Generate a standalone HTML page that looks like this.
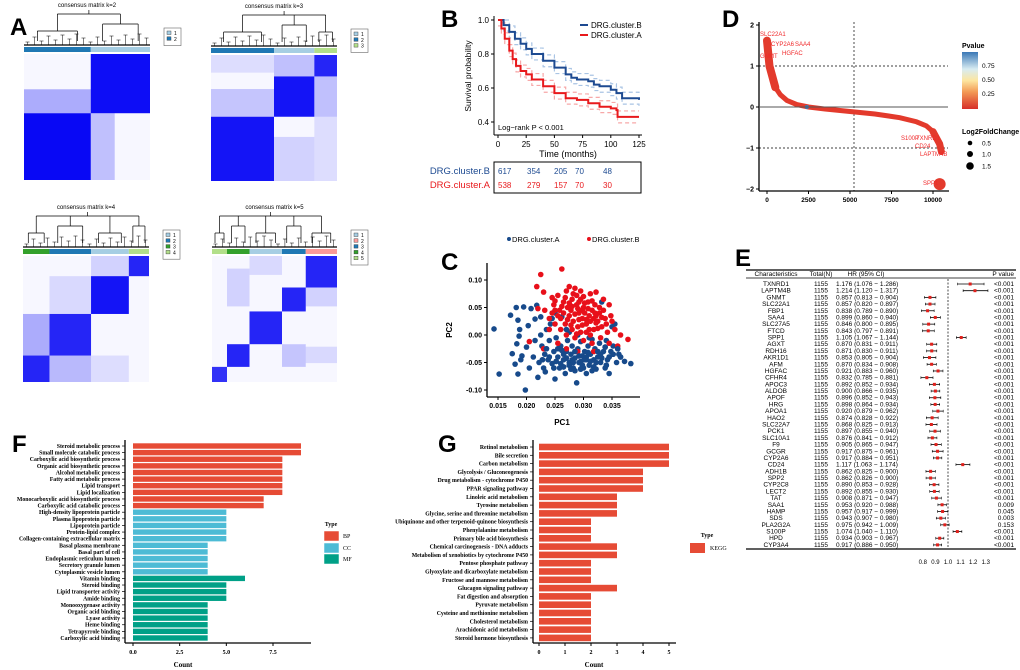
<!DOCTYPE html>
<html><head><meta charset="utf-8"><style>
html,body{margin:0;padding:0;background:#fff;width:1020px;height:670px;overflow:hidden}
svg{display:block;font-family:"Liberation Sans",sans-serif}
.serif{font-family:"Liberation Serif",serif;font-weight:bold}
</style></head><body>
<svg id="fig" width="1020" height="670" viewBox="0 0 1020 670"></svg>
<script>
// ---------- DATA ----------
const kmTimesB=[0,5,10,15,20,25,30,40,50,60,65,70,80,85,90,100,105,110,125];
const kmSurvB=[1.0,0.97,0.93,0.89,0.86,0.83,0.80,0.76,0.72,0.68,0.66,0.65,0.64,0.62,0.61,0.59,0.57,0.54,0.53];
const kmTimesA=[0,3,6,10,13,16,20,25,30,40,50,60,70,80,90,100,105,106,125];
const kmSurvA=[1.0,0.95,0.89,0.82,0.77,0.73,0.70,0.68,0.65,0.61,0.57,0.54,0.53,0.51,0.49,0.48,0.47,0.43,0.43];
const riskTimes=[0,25,50,75,100];
const riskB=[617,354,205,70,48];
const riskA=[538,279,157,70,30];
const pcaA=[[0.0143,0.011],[0.0152,-0.071],[0.0172,0.036],[0.0182,0.050],[0.0195,0.051],[0.0185,0.027],[0.0188,0.010],[0.0187,-0.002],[0.0183,-0.016],[0.0175,-0.034],[0.0180,-0.053],[0.0185,-0.071],[0.0198,-0.100],[0.0190,-0.045],[0.0192,-0.038],[0.0200,-0.022],[0.0203,0.017],[0.0208,0.048],[0.0205,-0.060],[0.0212,-0.040],[0.0215,0.029],[0.0218,0.054],[0.0220,-0.077],[0.0222,-0.050],[0.0225,0.033],[0.0227,-0.020],[0.0230,-0.060],[0.0232,-0.035],[0.0235,0.010],[0.0233,-0.067],[0.0238,-0.045],[0.0240,-0.010],[0.0242,0.020],[0.0245,-0.052],[0.0248,-0.030],[0.0250,-0.080],[0.0252,-0.005],[0.0255,-0.040],[0.0258,-0.060],[0.0260,-0.020],[0.0262,0.033],[0.0265,-0.045],[0.0268,-0.070],[0.0270,-0.030],[0.0272,-0.010],[0.0275,-0.050],[0.0278,-0.035],[0.0280,-0.020],[0.0282,-0.060],[0.0285,-0.042],[0.0288,-0.087],[0.0290,-0.025],[0.0292,-0.050],[0.0295,-0.012],[0.0298,-0.038],[0.0300,-0.060],[0.0302,-0.030],[0.0305,-0.045],[0.0308,-0.020],[0.0310,-0.055],[0.0312,-0.035],[0.0315,-0.008],[0.0318,-0.045],[0.0320,-0.025],[0.0322,-0.062],[0.0325,-0.040],[0.0328,-0.015],[0.0330,-0.050],[0.0332,0.060],[0.0335,-0.030],[0.0338,-0.060],[0.0340,-0.010],[0.0342,-0.045],[0.0345,-0.070],[0.0348,-0.030],[0.0350,0.015],[0.0352,-0.020],[0.0355,0.020],[0.0358,-0.050],[0.0362,-0.035],[0.0372,-0.048],[0.0383,-0.052],[0.0310,-0.005],[0.0290,0.000],[0.0270,0.010],[0.0250,0.040],[0.0245,0.030],[0.0260,-0.052],[0.0285,-0.065],[0.0305,-0.070],[0.0315,-0.065],[0.0275,0.005],[0.0225,0.000],[0.0215,-0.010],[0.0265,-0.035],[0.0280,-0.045],[0.0295,-0.048],[0.0305,-0.040],[0.0318,-0.030],[0.0330,-0.035],[0.0275,-0.055],[0.0255,-0.025],[0.0240,-0.040],[0.0248,-0.060],[0.0262,-0.028],[0.0270,-0.042],[0.0278,-0.062],[0.0285,-0.030],[0.0292,-0.038],[0.0298,-0.055],[0.0302,-0.045],[0.0308,-0.032],[0.0312,-0.048],[0.0318,-0.058],[0.0325,-0.030],[0.0332,-0.042],[0.0338,-0.022],[0.0345,-0.040],[0.0352,-0.035],[0.0235,-0.025],[0.0228,-0.045],[0.0252,-0.048],[0.0265,-0.058],[0.0282,-0.050],[0.0295,-0.062],[0.0322,-0.050],[0.0340,-0.055],[0.0360,-0.025],[0.0365,-0.040]];
const pcaB=[[0.0225,0.110],[0.0262,0.120],[0.0218,0.088],[0.0230,0.078],[0.0245,0.068],[0.0255,0.072],[0.0270,0.080],[0.0275,0.088],[0.0285,0.085],[0.0295,0.080],[0.0300,0.070],[0.0312,0.075],[0.0322,0.078],[0.0335,0.065],[0.0345,0.055],[0.0220,0.048],[0.0232,0.045],[0.0240,0.030],[0.0248,0.055],[0.0258,0.045],[0.0265,0.060],[0.0272,0.050],[0.0280,0.065],[0.0288,0.055],[0.0292,0.040],[0.0300,0.050],[0.0308,0.060],[0.0315,0.045],[0.0320,0.055],[0.0328,0.040],[0.0338,0.030],[0.0350,0.025],[0.0355,0.010],[0.0365,0.000],[0.0378,-0.008],[0.0360,-0.020],[0.0240,0.010],[0.0250,0.020],[0.0260,0.030],[0.0268,0.020],[0.0275,0.035],[0.0282,0.025],[0.0290,0.015],[0.0298,0.030],[0.0305,0.020],[0.0310,0.035],[0.0318,0.010],[0.0325,0.025],[0.0332,0.015],[0.0342,0.005],[0.0270,0.000],[0.0285,-0.005],[0.0300,-0.010],[0.0315,-0.015],[0.0330,-0.005],[0.0345,-0.015],[0.0255,-0.015],[0.0230,-0.025],[0.0205,-0.012],[0.0295,0.065],[0.0310,0.010],[0.0278,0.045],[0.0262,0.052],[0.0322,0.035],[0.0302,0.040],[0.0288,0.072],[0.0250,0.062],[0.0318,-0.030],[0.0290,-0.030],[0.0270,-0.025],[0.0280,0.010],[0.0295,0.005],[0.0305,0.028],[0.0290,0.048],[0.0275,0.058],[0.0255,0.035],[0.0265,0.040],[0.0272,0.028],[0.0278,0.018],[0.0285,0.038],[0.0292,0.028],[0.0298,0.018],[0.0302,0.058],[0.0308,0.048],[0.0312,0.025],[0.0315,0.062],[0.0320,0.040],[0.0325,0.012],[0.0328,0.050],[0.0335,0.045],[0.0340,0.020],[0.0268,0.068],[0.0282,0.075],[0.0292,0.060],[0.0305,0.005],[0.0312,0.000],[0.0322,0.022],[0.0288,0.002],[0.0260,0.010],[0.0250,0.045],[0.0245,0.040],[0.0280,0.052],[0.0298,0.045],[0.0318,0.030],[0.0332,0.032],[0.0348,0.035]];
const rankIdx=[0,60,150,300,500,800,1200,1800,2500,3500,5000,6500,8000,9000,9600,10000,10250,10400,10500];
const rankVal=[1.62,1.3,1.0,0.7,0.48,0.3,0.16,0.06,0.0,-0.05,-0.11,-0.17,-0.26,-0.36,-0.46,-0.6,-0.75,-0.9,-1.08];
const genes=["TXNRD1","LAPTM4B","GNMT","SLC22A1","FBP1","SAA4","SLC27A5","FTCD","SPP1","AGXT","RDH16","AKR1D1","AFM","HGFAC","CFHR4","APOC3","ALDOB","APOF","HRG","APOA1","HAO2","SLC22A7","PCK1","SLC10A1","F9","GCGR","CYP2A6","CD24","ADH1B","SPP2","CYP2C8","LECT2","TAT","SAA1","HAMP","SDS","PLA2G2A","S100P","HPD","CYP3A4"];
const hr=[1.176,1.214,0.857,0.857,0.838,0.899,0.846,0.843,1.105,0.870,0.871,0.853,0.870,0.921,0.832,0.892,0.900,0.896,0.898,0.920,0.874,0.868,0.897,0.876,0.905,0.917,0.917,1.117,0.862,0.862,0.890,0.892,0.908,0.953,0.957,0.943,0.975,1.074,0.934,0.917];
const hrLo=[1.076,1.120,0.813,0.820,0.789,0.860,0.800,0.797,1.067,0.831,0.830,0.805,0.834,0.883,0.785,0.852,0.866,0.852,0.864,0.879,0.828,0.825,0.855,0.841,0.865,0.875,0.884,1.063,0.825,0.826,0.853,0.855,0.871,0.920,0.917,0.907,0.942,1.040,0.903,0.886];
const hrHi=[1.286,1.317,0.904,0.897,0.890,0.940,0.895,0.891,1.144,0.911,0.911,0.904,0.908,0.960,0.881,0.934,0.935,0.943,0.934,0.962,0.922,0.913,0.940,0.912,0.947,0.961,0.951,1.174,0.900,0.900,0.928,0.930,0.947,0.988,0.999,0.980,1.009,1.110,0.967,0.950];
const pvals=["<0.001","<0.001","<0.001","<0.001","<0.001","<0.001","<0.001","<0.001","<0.001","<0.001","<0.001","<0.001","<0.001","<0.001","<0.001","<0.001","<0.001","<0.001","<0.001","<0.001","<0.001","<0.001","<0.001","<0.001","<0.001","<0.001","<0.001","<0.001","<0.001","<0.001","<0.001","<0.001","<0.001","0.009","0.045","0.003","0.153","<0.001","<0.001","<0.001"];
const hrTicks=[0.8,0.9,1.0,1.1,1.2,1.3];
const goTerms=["Steroid metabolic process","Small molecule catabolic process","Carboxylic acid biosynthetic process","Organic acid biosynthetic process","Alcohol metabolic process","Fatty acid metabolic process","Lipid transport","Lipid localization","Monocarboxylic acid biosynthetic process","Carboxylic acid catabolic process","High-density lipoprotein particle","Plasma lipoprotein particle","Lipoprotein particle","Protein-lipid complex","Collagen-containing extracellular matrix","Basal plasma membrane","Basal part of cell","Endoplasmic reticulum lumen","Secretory granule lumen","Cytoplasmic vesicle lumen","Vitamin binding","Steroid binding","Lipid transporter activity","Amide binding","Monooxygenase activity","Organic acid binding","Lyase activity","Heme binding","Tetrapyrrole binding","Carboxylic acid binding"];
const goCounts=[9,9,8,8,8,8,8,8,7,7,5,5,5,5,5,4,4,4,4,4,6,5,5,5,4,4,4,4,4,4];
const goTypes=["BP","BP","BP","BP","BP","BP","BP","BP","BP","BP","CC","CC","CC","CC","CC","CC","CC","CC","CC","CC","MF","MF","MF","MF","MF","MF","MF","MF","MF","MF"];
const goTicks=[0,2.5,5,7.5];
const keggTerms=["Retinol metabolism","Bile secretion","Carbon metabolism","Glycolysis / Gluconeogenesis","Drug metabolism - cytochrome P450","PPAR signaling pathway","Linoleic acid metabolism","Tyrosine metabolism","Glycine, serine and threonine metabolism","Ubiquinone and other terpenoid-quinone biosynthesis","Phenylalanine metabolism","Primary bile acid biosynthesis","Chemical carcinogenesis - DNA adducts","Metabolism of xenobiotics by cytochrome P450","Pentose phosphate pathway","Glyoxylate and dicarboxylate metabolism","Fructose and mannose metabolism","Glucagon signaling pathway","Fat digestion and absorption","Pyruvate metabolism","Cysteine and methionine metabolism","Cholesterol metabolism","Arachidonic acid metabolism","Steroid hormone biosynthesis"];
const keggCounts=[5,5,5,4,4,4,3,3,3,2,2,2,3,3,2,2,2,3,2,2,2,2,2,2];
const keggTicks=[0,1,2,3,4,5];

// ---------- HELPERS ----------
const NS="http://www.w3.org/2000/svg";
const fig=document.getElementById('fig');
function mk(tag,attrs,name,parent){
  const el=document.createElementNS(NS,tag);
  for(const k in attrs) el.setAttribute(k,attrs[k]);
  
  
  (parent||fig).appendChild(el);return el;
}
function tx(x,y,s,attrs,name,parent){const t=mk('text',Object.assign({x:x,y:y},attrs||{}),name,parent);t.textContent=s;return t;}
function ln(x1,y1,x2,y2,attrs,name,parent){return mk('line',Object.assign({x1:x1,y1:y1,x2:x2,y2:y2,stroke:'#000','stroke-width':1},attrs||{}),name,parent);}
function g(name){return mk('g',{},name);}

// panel letters
[["A",10,35],["B",441,27],["C",441,270],["D",722,27],["E",735,266],["F",12,452],["G",438,452]].forEach(p=>{
  tx(p[1],p[2],p[0],{'font-size':24,'font-weight':'bold'},'panel-label-'+p[0].toLowerCase());
});

// ---------- PANEL A ----------
const hmDefs=[
 {k:2,x:24,y:54,w:126,h:126,lx:164,ly:28,
  blocks:[[0.53,1,0,0.47,0.95],[0,0.53,0.28,0.47,0.3],[0,0.53,0.47,1,0.97],[0.53,0.72,0.47,1,0.22]],
  bars:[[0,0.53,'#1f78b4'],[0.53,1,'#a6cee3']],leg:['#a6cee3','#1f78b4']},
 {k:3,x:211,y:55,w:126,h:126,lx:351,ly:29,
  blocks:[[0.82,1,0,0.17,0.85],[0.5,0.82,0,0.17,0.22],[0.5,0.82,0.17,0.49,0.92],[0,0.5,0.49,1,0.92],[0,0.5,0.27,0.49,0.2],[0.82,1,0.17,0.49,0.22],[0.5,0.82,0.65,1,0.15],[0,0.5,0,0.14,0.1],[0.82,1,0.49,1,0.1]],
  bars:[[0,0.5,'#1f78b4'],[0.5,0.82,'#a6cee3'],[0.82,1,'#b2df8a']],leg:['#a6cee3','#1f78b4','#b2df8a']},
 {k:4,x:23,y:256,w:126,h:126,lx:163,ly:230,
  blocks:[[0.84,1,0,0.16,0.85],[0.54,0.84,0.16,0.46,0.92],[0.21,0.54,0.46,0.79,0.85],[0,0.21,0.79,1,0.85],[0,0.21,0.46,0.79,0.3],[0.21,0.54,0.79,1,0.25],[0.54,0.84,0,0.16,0.15],[0.21,0.54,0.16,0.46,0.12],[0.54,0.84,0.79,1,0.1]],
  bars:[[0,0.21,'#33a02c'],[0.21,0.54,'#1f78b4'],[0.54,0.84,'#a6cee3'],[0.84,1,'#b2df8a']],leg:['#a6cee3','#1f78b4','#33a02c','#b2df8a']},
 {k:5,x:212,y:256,w:125,h:126,lx:351,ly:230,
  blocks:[[0.75,1,0,0.25,0.85],[0.56,0.75,0.25,0.44,0.85],[0.3,0.56,0.44,0.7,0.85],[0.12,0.3,0.7,0.88,0.85],[0,0.12,0.88,1,0.8],[0.3,0.56,0,0.15,0.12],[0.12,0.3,0.1,0.4,0.15],[0.75,1,0.25,0.4,0.15],[0.56,0.75,0.7,0.88,0.2],[0.75,1,0.72,0.85,0.12]],
  bars:[[0,0.12,'#b2df8a'],[0.12,0.3,'#33a02c'],[0.3,0.56,'#a6cee3'],[0.56,0.75,'#1f78b4'],[0.75,1,'#fb9a99']],leg:['#a6cee3','#fb9a99','#1f78b4','#33a02c','#b2df8a']}
];
hmDefs.forEach(d=>{
  const G=g('consensus-heatmap-k'+d.k);
  tx(d.x+d.w/2,d.y-47,'consensus matrix k='+d.k,{'font-size':6,'text-anchor':'middle'},'heatmap-title',G);
  mk('rect',{x:d.x,y:d.y,width:d.w,height:d.h,fill:'#f7f7ff'},'heatmap-bg',G);
  d.blocks.forEach(b=>{
    mk('rect',{x:d.x+b[0]*d.w,y:d.y+b[2]*d.h,width:(b[1]-b[0])*d.w,height:(b[3]-b[2])*d.h,fill:'#0000f5','fill-opacity':b[4]},'heatmap-block',G);
  });
  d.bars.forEach(b=>{
    mk('rect',{x:d.x+b[0]*d.w,y:d.y-7,width:(b[1]-b[0])*d.w,height:5,fill:b[2]},'cluster-bar',G);
  });
  const top=d.y-44, base=d.y-9;
  const splits=d.bars.map(b=>(b[0]+b[1])/2);
  for(let i=0;i<18;i++){
    const px=d.x+(i+0.5)*d.w/18, hh=base-3-((i*5)%9);
    ln(px-2,hh,px+2,hh,{'stroke-width':0.5},'dendrogram-leaf',G);
    ln(px,hh,px,base,{'stroke-width':0.5},'dendrogram-leaf',G);
  }
  ln(d.x,base,d.x+d.w,base,{'stroke-width':1.2},'dendrogram-base',G);
  splits.forEach((s,i)=>{
    const cx=d.x+s*d.w, hw=(d.bars[i][1]-d.bars[i][0])*d.w*0.3, hh=base-14-((i*7)%14);
    ln(cx-hw,hh,cx+hw,hh,{'stroke-width':0.7},'dendrogram-branch',G);
    ln(cx-hw,hh,cx-hw,base-4,{'stroke-width':0.7},'dendrogram-branch',G);
    ln(cx+hw,hh,cx+hw,base-4,{'stroke-width':0.7},'dendrogram-branch',G);
    ln(cx,hh,cx,top+4,{'stroke-width':0.7},'dendrogram-branch',G);
  });
  const l=d.x+splits[0]*d.w, r=d.x+splits[splits.length-1]*d.w;
  ln(l,top+4,r,top+4,{'stroke-width':0.7},'dendrogram-root',G);
  ln((l+r)/2,top,(l+r)/2,top+4,{'stroke-width':0.7},'dendrogram-root',G);
  const n=d.leg.length;
  mk('rect',{x:d.lx,y:d.ly,width:17,height:6+n*5.8,fill:'#fff',stroke:'#666','stroke-width':0.6},'heatmap-legend-box',G);
  d.leg.forEach((c,i)=>{
    mk('rect',{x:d.lx+3,y:d.ly+3+i*5.8,width:4,height:3.5,fill:c,stroke:'#333','stroke-width':0.4},'legend-swatch',G);
    tx(d.lx+10,d.ly+7+i*5.8,String(i+1),{'font-size':5},'legend-label',G);
  });
});

// ---------- PANEL B ----------
(function(){
  const G=g('km-plot');
  const x=t=>498+t*(639-498)/125, y=s=>20+(1-s)*(122-20)/0.6;
  ln(494,16,494,135,{},'km-y-axis',G); ln(494,135,642,135,{},'km-x-axis',G);
  [0.4,0.6,0.8,1.0].forEach(v=>{ln(491,y(v),494,y(v),{},'km-y-tick',G);tx(489,y(v)+3,v.toFixed(1),{'font-size':8,'text-anchor':'end'},'km-y-tick-label',G);});
  [0,25,50,75,100,125].forEach(v=>{ln(x(v),135,x(v),138,{},'km-x-tick',G);tx(x(v),147,String(v),{'font-size':8,'text-anchor':'middle'},'km-x-tick-label',G);});
  tx(568,157,'Time (months)',{'font-size':9,'text-anchor':'middle'},'km-x-axis-title',G);
  tx(0,0,'Survival probability',{'font-size':8.5,'text-anchor':'middle',transform:'translate(471,76) rotate(-90)'},'km-y-axis-title',G);
  function step(ts,ss,off){let d='';ts.forEach((t,i)=>{const s=Math.min(1,ss[i]+off);d+=(i?'H'+x(t)+'V'+y(s):'M'+x(t)+','+y(s));});return d;}
  [[kmTimesB,kmSurvB,'#a9c4e4','ci-b'],[kmTimesA,kmSurvA,'#f7a8a8','ci-a']].forEach(c=>{
    mk('path',{d:step(c[0],c[1],0.035),fill:'none',stroke:c[2],'stroke-width':1.2,'stroke-dasharray':'4,3'},'km-'+c[3]+'-upper',G);
    mk('path',{d:step(c[0],c[1],-0.035),fill:'none',stroke:c[2],'stroke-width':1.2,'stroke-dasharray':'4,3'},'km-'+c[3]+'-lower',G);
  });
  mk('path',{d:step(kmTimesB,kmSurvB,0),fill:'none',stroke:'#1d4a91','stroke-width':2},'km-curve-cluster-b',G);
  mk('path',{d:step(kmTimesA,kmSurvA,0),fill:'none',stroke:'#e8191c','stroke-width':2},'km-curve-cluster-a',G);
  ln(580,25,588,25,{stroke:'#1d4a91','stroke-width':2},'legend-line-b',G);
  tx(591,28,'DRG.cluster.B',{'font-size':8},'legend-label-b',G);
  ln(580,35,588,35,{stroke:'#e8191c','stroke-width':2},'legend-line-a',G);
  tx(591,38,'DRG.cluster.A',{'font-size':8},'legend-label-a',G);
  tx(498,130,'Log−rank P < 0.001',{'font-size':7.5},'logrank-pvalue',G);
  mk('rect',{x:494,y:162,width:147,height:31,fill:'none',stroke:'#000','stroke-width':1},'risk-table-box',G);
  const colX=[498,527,554,575,603];
  tx(490,174,'DRG.cluster.B',{'font-size':9.5,'text-anchor':'end',fill:'#1d4a91'},'risk-row-label-b',G);
  tx(490,188,'DRG.cluster.A',{'font-size':9.5,'text-anchor':'end',fill:'#e8191c'},'risk-row-label-a',G);
  riskTimes.forEach((t,i)=>{
    tx(colX[i],174,String(riskB[i]),{'font-size':8,fill:'#1d4a91'},'risk-count-b',G);
    tx(colX[i],188,String(riskA[i]),{'font-size':8,fill:'#e8191c'},'risk-count-a',G);
  });
})();

// ---------- PANEL C ----------
(function(){
  const G=g('pca-scatter');
  const x=v=>498+(v-0.015)*(612-498)/0.02;
  const yy=v=>280+(0.10-v)*(110/0.2);
  ln(487,263,487,397,{'stroke-width':1.3},'pca-y-axis',G); ln(487,397,640,397,{'stroke-width':1.3},'pca-x-axis',G);
  [0.10,0.05,0.00,-0.05,-0.10].forEach(v=>{ln(484,yy(v),487,yy(v),{},'pca-y-tick',G);tx(482,yy(v)+2.5,v.toFixed(2),{'font-size':7,'font-weight':'bold','text-anchor':'end'},'pca-y-tick-label',G);});
  [0.015,0.020,0.025,0.030,0.035].forEach(v=>{ln(x(v),397,x(v),400,{},'pca-x-tick',G);tx(x(v),408,v.toFixed(3),{'font-size':7,'font-weight':'bold','text-anchor':'middle'},'pca-x-tick-label',G);});
  tx(562,425,'PC1',{'font-size':8,'font-weight':'bold','text-anchor':'middle'},'pca-x-axis-title',G);
  tx(0,0,'PC2',{'font-size':8,'font-weight':'bold','text-anchor':'middle',transform:'translate(452,330) rotate(-90)'},'pca-y-axis-title',G);
  pcaA.forEach(p=>mk('circle',{cx:x(p[0]),cy:yy(p[1]),r:2.8,fill:'#174a8b'},'point-cluster-a',G));
  pcaB.forEach(p=>mk('circle',{cx:x(p[0]),cy:yy(p[1]),r:2.8,fill:'#e8101a'},'point-cluster-b',G));
  pcaA.slice(100).forEach(p=>mk('circle',{cx:x(p[0]),cy:yy(p[1]),r:2.8,fill:'#174a8b'},'point-cluster-a',G));
  mk('circle',{cx:509,cy:239,r:2,fill:'#174a8b'},'legend-dot-a',G);
  tx(512,242,'DRG.cluster.A',{'font-size':7.5},'legend-label-a',G);
  mk('circle',{cx:589,cy:239,r:2,fill:'#e8101a'},'legend-dot-b',G);
  tx(592,242,'DRG.cluster.B',{'font-size':7.5},'legend-label-b',G);
})();

// ---------- PANEL D ----------
(function(){
  const G=g('rank-plot');
  const x=v=>767+v*(933-767)/10000, y=v=>107-v*(82/2);
  ln(759,22,759,191,{'stroke-width':1.3},'rank-y-axis',G); ln(759,191,949,191,{'stroke-width':1.3},'rank-x-axis',G);
  [2,1,0,-1,-2].forEach(v=>{ln(756,y(v),759,y(v),{},'rank-y-tick',G);tx(754,y(v)+2.5,String(v).replace('-','−'),{'font-size':7,'font-weight':'bold','text-anchor':'end'},'rank-y-tick-label',G);});
  [0,2500,5000,7500,10000].forEach(v=>{ln(x(v),191,x(v),194,{},'rank-x-tick',G);tx(x(v),202,String(v),{'font-size':6.5,'font-weight':'bold','text-anchor':'middle'},'rank-x-tick-label',G);});
  ln(759,y(1),948,y(1),{'stroke-dasharray':'2,2','stroke-width':0.7},'threshold-line-up',G);
  ln(759,y(-1),948,y(-1),{'stroke-dasharray':'2,2','stroke-width':0.7},'threshold-line-down',G);
  ln(854,22,854,191,{'stroke-dasharray':'2,2','stroke-width':0.7},'median-rank-line',G);
  let d='';rankIdx.forEach((r,i)=>{d+=(i?'L':'M')+x(r)+','+y(rankVal[i]);});
  mk('path',{d:d,fill:'none',stroke:'#e33a2c','stroke-width':5,'stroke-linecap':'round'},'rank-curve',G);
  mk('path',{d:'M'+x(0)+','+y(1.62)+'L'+x(150)+','+y(1.0)+'L'+x(500)+','+y(0.48),fill:'none',stroke:'#e33a2c','stroke-width':8,'stroke-linecap':'round'},'rank-curve-thick-top',G);
  mk('path',{d:'M'+x(10000)+','+y(-0.6)+'L'+x(10400)+','+y(-0.9)+'L'+x(10500)+','+y(-1.08),fill:'none',stroke:'#e33a2c','stroke-width':7,'stroke-linecap':'round'},'rank-curve-thick-bottom',G);
  mk('circle',{cx:x(2400),cy:y(0),r:2,fill:'#3b78b8'},'rank-point-high-p',G);
  ln(759,y(0),948,y(0),{stroke:'#555','stroke-width':1},'zero-line',G);
  mk('circle',{cx:x(10400),cy:y(-1.88),r:6,fill:'#e33a2c'},'point-spp1',G);
  const lab=[['SLC22A1',760,36],['CYP2A6',771,46],['SAA4',795,46],['HGFAC',782,55],['GNMT',760,58],['S100P',901,140],['TXNRD1',916,140],['CD24',915,148],['LAPTM4B',920,156],['SPP1',923,185]];
  lab.forEach(l=>tx(l[1],l[2],l[0],{'font-size':6,fill:'#f0282a'},'gene-label',G));
  const gr=mk('linearGradient',{id:'pg',x1:0,y1:1,x2:0,y2:0},'pvalue-gradient',G);
  [['0','#d7302a'],['0.3','#f39a55'],['0.5','#fde6a0'],['0.7','#d8ecf2'],['1','#3a78b6']].forEach(s=>mk('stop',{offset:s[0],'stop-color':s[1]},'gradient-stop',gr));
  tx(962,48,'Pvalue',{'font-size':7,'font-weight':'bold'},'pvalue-legend-title',G);
  mk('rect',{x:962,y:52,width:16,height:57,fill:'url(#pg)'},'pvalue-colorbar',G);
  [['0.75',68],['0.50',82],['0.25',96]].forEach(t=>tx(982,t[1],t[0],{'font-size':6.5},'colorbar-label',G));
  tx(962,134,'Log2FoldChange',{'font-size':7,'font-weight':'bold'},'size-legend-title',G);
  [['0.5',143,2.3],['1.0',154,3],['1.5',166,3.8]].forEach(t=>{mk('circle',{cx:970,cy:t[1],r:t[2],fill:'#000'},'size-legend-dot',G);tx(982,t[1]+2.5,t[0],{'font-size':6.5},'size-legend-label',G);});
})();

// ---------- PANEL E ----------
(function(){
  const G=g('forest-plot');
  const fx=v=>948+(v-1.0)*126;
  const rowY=i=>284+i*6.69;
  ln(746,270,1016,270,{'stroke-width':1.3},'table-top-rule',G);
  ln(746,278,1016,278,{'stroke-width':0.7},'table-header-rule',G);
  ln(746,549,1016,549,{'stroke-width':1.3},'table-bottom-rule',G);
  tx(776,276,'Characteristics',{'font-size':6.5,'text-anchor':'middle'},'header-characteristics',G);
  tx(821,276,'Total(N)',{'font-size':6.5,'text-anchor':'middle'},'header-total',G);
  tx(866,276,'HR (95% CI)',{'font-size':6.5,'text-anchor':'middle'},'header-hr',G);
  tx(1014,276,'P value',{'font-size':6.5,'text-anchor':'end'},'header-pvalue',G);
  ln(948,279,948,549,{'stroke-dasharray':'2,1.5','stroke-width':0.7},'reference-line',G);
  genes.forEach((gname,i)=>{
    const yy=rowY(i);
    tx(776,yy+2,gname,{'font-size':6.5,'text-anchor':'middle'},'row-gene',G);
    tx(821,yy+2,'1155',{'font-size':6.5,'text-anchor':'middle'},'row-total',G);
    tx(836,yy+2,hr[i].toFixed(3)+' ('+hrLo[i].toFixed(3)+' − '+hrHi[i].toFixed(3)+')',{'font-size':6.5},'row-hr-text',G);
    tx(1014,yy+2,pvals[i],{'font-size':6.5,'text-anchor':'end'},'row-pvalue',G);
    ln(fx(hrLo[i]),yy,fx(hrHi[i]),yy,{'stroke-width':0.8},'ci-whisker',G);
    ln(fx(hrLo[i]),yy-1.3,fx(hrLo[i]),yy+1.3,{'stroke-width':0.6},'ci-cap',G);
    ln(fx(hrHi[i]),yy-1.3,fx(hrHi[i]),yy+1.3,{'stroke-width':0.6},'ci-cap',G);
    mk('rect',{x:fx(hr[i])-1.5,y:yy-1.5,width:3,height:3,fill:'#e0201b'},'hr-point',G);
  });
  hrTicks.forEach(v=>tx(fx(v),564,v.toFixed(1),{'font-size':6,'text-anchor':'middle'},'hr-tick-label',G));
})();

// ---------- PANEL F ----------
(function(){
  const G=g('go-bar-chart');
  const x=v=>133+v*(140/7.5), y=i=>446+i*6.62;
  const col={BP:'#e64b35',CC:'#4dbbd5',MF:'#00a087'};
  ln(125,440,125,643,{'stroke-width':1.3},'go-y-axis',G); ln(125,643,311,643,{'stroke-width':1.3},'go-x-axis',G);
  goTerms.forEach((t,i)=>{
    mk('rect',{x:x(0),y:y(i)-2.7,width:x(goCounts[i])-x(0),height:5.4,fill:col[goTypes[i]]},'go-bar',G);
    ln(122,y(i),125,y(i),{'stroke-width':0.7},'go-y-tick',G);
    tx(120,y(i)+2,t,{'font-size':5.8,'text-anchor':'end',class:'serif'},'go-term-label',G);
  });
  goTicks.forEach(v=>{ln(x(v),643,x(v),646,{},'go-x-tick',G);tx(x(v),654,v.toFixed(1),{'font-size':6,'text-anchor':'middle',class:'serif'},'go-x-tick-label',G);});
  tx(183,667,'Count',{'font-size':7,'text-anchor':'middle',class:'serif'},'go-x-axis-title',G);
  tx(331,526,'Type',{'font-size':6,'text-anchor':'middle',class:'serif'},'go-legend-title',G);
  [['BP',531],['CC',543],['MF',554]].forEach(l=>{mk('rect',{x:324,y:l[1],width:15,height:10,fill:col[l[0]],stroke:'#fff','stroke-width':0.5},'legend-swatch-'+l[0].toLowerCase(),G);tx(343,l[1]+7,l[0],{'font-size':6,'font-family':'Liberation Serif'},'legend-label',G);});
})();

// ---------- PANEL G ----------
(function(){
  const G=g('kegg-bar-chart');
  const x=v=>539+v*26, y=i=>447+i*8.3;
  ln(533,440,533,643,{'stroke-width':1.3},'kegg-y-axis',G); ln(533,643,676,643,{'stroke-width':1.3},'kegg-x-axis',G);
  keggTerms.forEach((t,i)=>{
    mk('rect',{x:x(0),y:y(i)-3.3,width:x(keggCounts[i])-x(0),height:6.6,fill:'#e64b35'},'kegg-bar',G);
    ln(530,y(i),533,y(i),{'stroke-width':0.7},'kegg-y-tick',G);
    tx(528,y(i)+2,t,{'font-size':5.8,'text-anchor':'end',class:'serif'},'kegg-term-label',G);
  });
  keggTicks.forEach(v=>{ln(x(v),643,x(v),646,{},'kegg-x-tick',G);tx(x(v),654,String(v),{'font-size':6,'text-anchor':'middle',class:'serif'},'kegg-x-tick-label',G);});
  tx(594,667,'Count',{'font-size':7,'text-anchor':'middle',class:'serif'},'kegg-x-axis-title',G);
  tx(707,537,'Type',{'font-size':6,'text-anchor':'middle',class:'serif'},'kegg-legend-title',G);
  mk('rect',{x:690,y:543,width:15,height:10,fill:'#e64b35'},'legend-swatch-kegg',G);
  tx(710,550,'KEGG',{'font-size':6,'font-family':'Liberation Serif'},'legend-label-kegg',G);
})();
</script>
</body></html>
